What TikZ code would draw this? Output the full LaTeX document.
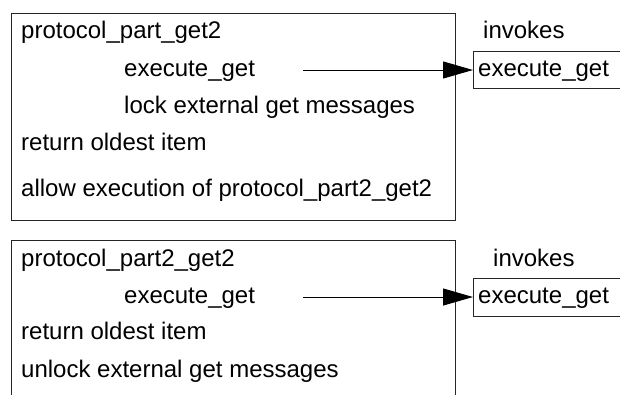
\documentclass[tikz,border=0pt]{standalone}
\usepackage{fontspec}
\setmainfont{Liberation Sans}
\usetikzlibrary{arrows.meta}
\begin{document}
\begin{tikzpicture}[x=1pt,y=-1pt,
  lbl/.style={anchor=base west,inner sep=0pt,font=\fontsize{24}{28}\selectfont},
  frame/.style={draw=black!85,line width=1pt},
  callarrow/.style={draw=black,line width=1pt,-{Triangle[length=30pt,width=17pt]}}]
\useasboundingbox (0,0) rectangle (620,394);
% upper block
\draw[frame] (11,13) rectangle (455,220);
\node[lbl] (h1) at (21,38) {protocol\_part\_get2};
\node[lbl] (e1) at (124,76) {execute\_get};
\node[lbl] (l1) at (124,113) {lock external get messages};
\node[lbl] (r1) at (21,150) {return oldest item};
\node[lbl] (a1) at (21,196) {allow execution of protocol\_part2\_get2};
\node[lbl] (i1) at (483,38) {invokes};
\draw[frame] (621,51) -| (473,88) -- (621,88);
\node[lbl] (x1) at (478,76) {execute\_get};
\coordinate (s1) at (303,70);
\coordinate (t1) at (473,70);
\draw[callarrow] (s1) -- (t1);
% lower block
\draw[frame] (11,395) |- (455,240) -- (455,395);
\node[lbl] (h2) at (21,266) {protocol\_part2\_get2};
\node[lbl] (e2) at (124,303) {execute\_get};
\node[lbl] (r2) at (21,339) {return oldest item};
\node[lbl] (u2) at (21,377) {unlock external get messages};
\node[lbl] (i2) at (493,266) {invokes};
\draw[frame] (621,278) -| (473,316) -- (621,316);
\node[lbl] (x2) at (478,303) {execute\_get};
\coordinate (s2) at (303,297);
\coordinate (t2) at (473,297);
\draw[callarrow] (s2) -- (t2);
\end{tikzpicture}
\end{document}
